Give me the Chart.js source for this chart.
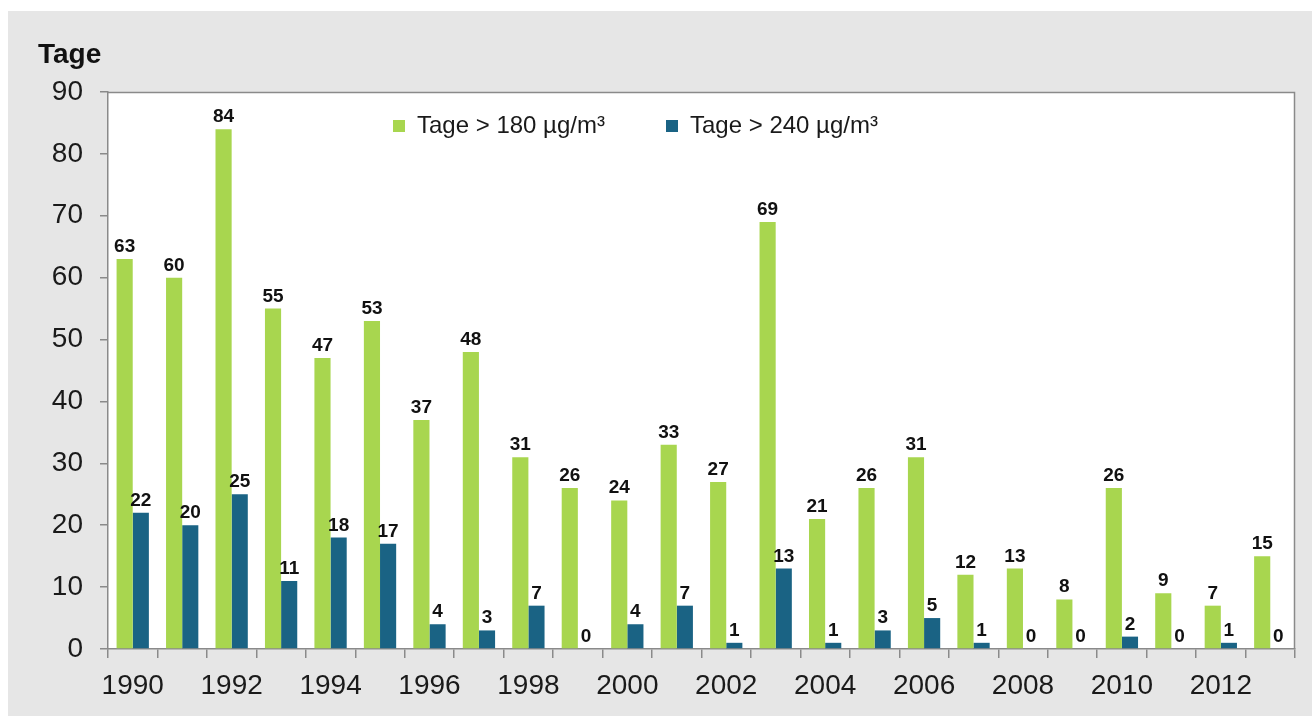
<!DOCTYPE html>
<html>
<head>
<meta charset="utf-8">
<style>
  html, body { margin: 0; padding: 0; background: #ffffff; }
  canvas { display: block; }
</style>
<script src="https://cdn.jsdelivr.net/npm/chart.js@4.4.1/dist/chart.umd.min.js"></script>
</head>
<body>
<canvas id="chart" width="1312" height="716"></canvas>
<script>
// Ozone exceedance days per year
const years = ['1990','1991','1992','1993','1994','1995','1996','1997','1998','1999','2000','2001',
               '2002','2003','2004','2005','2006','2007','2008','2009','2010','2011','2012','2013'];
const days180 = [63, 60, 84, 55, 47, 53, 37, 48, 31, 26, 24, 33, 27, 69, 21, 26, 31, 12, 13, 8, 26, 9, 7, 15];
const days240 = [22, 20, 25, 11, 18, 17, 4, 3, 7, 0, 4, 7, 1, 13, 1, 3, 5, 1, 0, 0, 2, 0, 1, 0];
const seriesNames = ['Tage > 180 µg/m³', 'Tage > 240 µg/m³'];
const yTicks = [0, 10, 20, 30, 40, 50, 60, 70, 80, 90];
const axisTitle = 'Tage';

const FONT = '"Liberation Sans", Arial, Helvetica, sans-serif';
const GREEN = '#a8d64f';
const BLUE = '#1a6384';
const AXIS = '#8a8a8a';
const TEXT = '#1a1a1a';

// Frame: grey panel behind everything, white plot area with grey top/right border
const framePlugin = {
  id: 'frame',
  beforeDraw(chart) {
    const { ctx, chartArea: a } = chart;
    ctx.save();
    ctx.fillStyle = '#ffffff';
    ctx.fillRect(0, 0, chart.width, chart.height);
    ctx.fillStyle = '#e6e6e6';
    ctx.fillRect(8, 11, chart.width - 8, chart.height - 11);
    ctx.fillStyle = '#ffffff';
    ctx.fillRect(a.left, a.top, a.right - a.left, a.bottom - a.top);
    ctx.strokeStyle = AXIS;
    ctx.lineWidth = 1.5;
    ctx.beginPath();
    ctx.moveTo(a.left, a.top + 0.5);
    ctx.lineTo(a.right - 0.5, a.top + 0.5);
    ctx.lineTo(a.right - 0.5, a.bottom);
    ctx.stroke();
    // axis title
    ctx.fillStyle = '#111111';
    ctx.font = 'bold 28px ' + FONT;
    ctx.textAlign = 'left';
    ctx.textBaseline = 'alphabetic';
    ctx.fillText(axisTitle, 38, 63);
    ctx.restore();
  }
};

// Value labels above each bar
const valueLabels = {
  id: 'valueLabels',
  afterDatasetsDraw(chart) {
    const { ctx } = chart;
    ctx.save();
    ctx.fillStyle = '#111111';
    ctx.font = 'bold 19px ' + FONT;
    ctx.textAlign = 'center';
    ctx.textBaseline = 'alphabetic';
    chart.data.datasets.forEach((ds, i) => {
      chart.getDatasetMeta(i).data.forEach((bar, j) => {
        ctx.fillText(String(ds.data[j]), bar.x, bar.y - 7);
      });
    });
    ctx.restore();
  }
};

// Legend drawn inside the plot area, centred near the top
const innerLegend = {
  id: 'innerLegend',
  afterDraw(chart) {
    const { ctx } = chart;
    const positions = [393, 666];
    ctx.save();
    ctx.font = '24px ' + FONT;
    ctx.textBaseline = 'middle';
    ctx.textAlign = 'left';
    chart.data.datasets.forEach((ds, i) => {
      const x = positions[i];
      const y = 126;
      ctx.fillStyle = ds.backgroundColor;
      ctx.fillRect(x, y - 6, 12, 12);
      ctx.fillStyle = TEXT;
      ctx.fillText(ds.label, x + 24, y);
    });
    ctx.restore();
  }
};

new Chart(document.getElementById('chart'), {
  type: 'bar',
  data: {
    labels: years,
    datasets: [
      { label: seriesNames[0], data: days180, backgroundColor: GREEN },
      { label: seriesNames[1], data: days240, backgroundColor: BLUE }
    ]
  },
  options: {
    responsive: false,
    devicePixelRatio: 1,
    animation: false,
    categoryPercentage: 0.653,
    barPercentage: 1.0,
    layout: { padding: { left: 8, top: 92, right: 17, bottom: 0 } },
    plugins: {
      legend: { display: false },
      tooltip: { enabled: false }
    },
    scales: {
      x: {
        grid: { display: true, drawOnChartArea: false, offset: true, tickLength: 9, color: AXIS, lineWidth: 1.5 },
        border: { color: AXIS, width: 1.5 },
        ticks: {
          autoSkip: false,
          maxRotation: 0,
          padding: 11,
          color: TEXT,
          font: { family: FONT, size: 28 },
          callback: (v, i) => (i % 2 === 0 ? years[i] : '')
        },
        afterFit: s => { s.height = 67; }
      },
      y: {
        min: yTicks[0],
        max: yTicks[yTicks.length - 1],
        grid: { display: true, drawOnChartArea: false, tickLength: 8, color: AXIS, lineWidth: 1.5 },
        border: { color: AXIS, width: 1.5 },
        ticks: {
          stepSize: 10,
          padding: 17,
          color: TEXT,
          font: { family: FONT, size: 28 }
        },
        afterBuildTicks: s => { s.ticks = yTicks.map(v => ({ value: v })); },
        afterFit: s => { s.width = 100; }
      }
    }
  },
  plugins: [framePlugin, valueLabels, innerLegend]
});
</script>
</body>
</html>
